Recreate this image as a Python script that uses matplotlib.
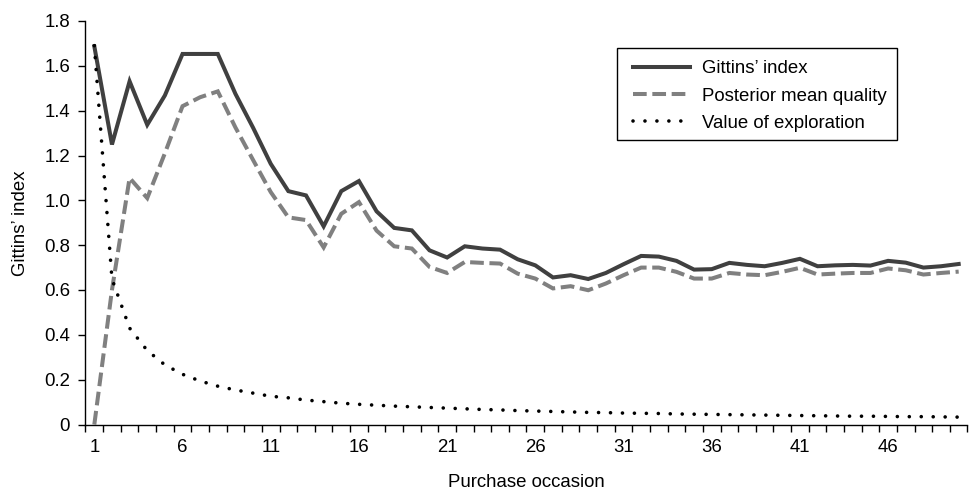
import matplotlib
matplotlib.use('Agg')
import matplotlib.pyplot as plt
from matplotlib.ticker import FixedLocator
from matplotlib.patches import Rectangle

plt.rcParams['font.family'] = ['Liberation Sans', 'DejaVu Sans']

occasions = list(range(1, 51))
gittins = [1.687, 1.249, 1.531, 1.337, 1.468, 1.653, 1.653, 1.653, 1.475, 1.324,
           1.163, 1.041, 1.022, 0.884, 1.041, 1.086, 0.951, 0.877, 0.866, 0.777,
           0.745, 0.795, 0.785, 0.780, 0.737, 0.710, 0.656, 0.666, 0.649, 0.676,
           0.715, 0.752, 0.749, 0.730, 0.691, 0.693, 0.721, 0.712, 0.706, 0.721,
           0.739, 0.706, 0.710, 0.712, 0.709, 0.730, 0.722, 0.700, 0.706, 0.716]
posterior_mean = [0.000, 0.600, 1.100, 1.010, 1.210, 1.420, 1.460, 1.486, 1.325, 1.180,
                  1.037, 0.924, 0.912, 0.790, 0.940, 0.992, 0.865, 0.795, 0.785, 0.703,
                  0.676, 0.725, 0.721, 0.718, 0.673, 0.651, 0.607, 0.617, 0.599, 0.629,
                  0.666, 0.700, 0.700, 0.681, 0.651, 0.651, 0.676, 0.669, 0.666, 0.681,
                  0.699, 0.669, 0.673, 0.676, 0.676, 0.696, 0.688, 0.669, 0.676, 0.682]
exploration = [1.690, 0.650, 0.430, 0.330, 0.266, 0.224, 0.194, 0.171, 0.154, 0.140,
               0.126, 0.119, 0.109, 0.102, 0.095, 0.090, 0.086, 0.082, 0.079, 0.076,
               0.073, 0.070, 0.067, 0.065, 0.062, 0.060, 0.058, 0.056, 0.054, 0.053,
               0.051, 0.050, 0.049, 0.047, 0.046, 0.045, 0.044, 0.043, 0.042, 0.041,
               0.040, 0.039, 0.038, 0.037, 0.037, 0.036, 0.035, 0.035, 0.034, 0.033]
series_labels = ['Gittins\u2019 index', 'Posterior mean quality', 'Value of exploration']
xtick_values = [1, 6, 11, 16, 21, 26, 31, 36, 41, 46]
ytick_values = [0, 0.2, 0.4, 0.6, 0.8, 1.0, 1.2, 1.4, 1.6, 1.8]
ytick_labels = ['0', '0.2', '0.4', '0.6', '0.8', '1.0', '1.2', '1.4', '1.6', '1.8']

FS = 13.4
fig = plt.figure(figsize=(9.79, 4.92), dpi=100)
ax = fig.add_axes([85.5 / 979, 1 - 424.5 / 492, 882 / 979, 403.5 / 492])

ax.plot(occasions, gittins, color='#404040', lw=2.9, solid_joinstyle='miter',
        label=series_labels[0])
ax.plot(occasions, posterior_mean, color='#808080', lw=2.9, linestyle=(0, (3.4, 1.4)),
        dash_capstyle='butt', dash_joinstyle='miter', label=series_labels[1], clip_on=False)
ax.plot(occasions, exploration, color='black', lw=2.6, linestyle=(0, (0.01, 3.3)),
        dash_capstyle='round', label=series_labels[2])

ax.set_xlim(0.5, 50.5)
ax.set_ylim(0, 1.8)
for s in ['top', 'right']:
    ax.spines[s].set_visible(False)
for s in ['left', 'bottom']:
    ax.spines[s].set_linewidth(1.0)
    ax.spines[s].set_color('black')

ax.set_yticks(ytick_values)
ax.set_yticklabels(ytick_labels)
ax.tick_params(axis='y', direction='out', length=5, width=1, pad=6.0, labelsize=FS)

ax.xaxis.set_major_locator(FixedLocator(xtick_values))
ax.set_xticklabels([str(v) for v in xtick_values])
ax.xaxis.set_minor_locator(FixedLocator([0.5 + i for i in range(51)]))
ax.tick_params(axis='x', which='major', length=0, pad=10.5, labelsize=FS)
ax.tick_params(axis='x', which='minor', length=5, width=1, direction='out')

ax.set_xlabel('Purchase occasion', fontsize=FS)
ax.xaxis.set_label_coords(0.5, -0.122)
ax.set_ylabel('Gittins\u2019 index', fontsize=FS)
ax.yaxis.set_label_coords(-0.064, 0.5)

# legend frame (layout box) and entries
ax.add_patch(Rectangle((0.6023, 0.7051), 0.9197 - 0.6023, 0.9323 - 0.7051,
                       transform=ax.transAxes, fill=True, facecolor='white',
                       edgecolor='black', lw=1.0, zorder=4, clip_on=False))
leg = ax.legend(loc='upper left', bbox_to_anchor=(0.6207, 0.9026), frameon=False,
                fontsize=FS, handlelength=3.07, handletextpad=0.63, labelspacing=0.55,
                borderpad=0.0, borderaxespad=0)
leg.set_zorder(5)

fig.savefig('out.png', dpi=100)
